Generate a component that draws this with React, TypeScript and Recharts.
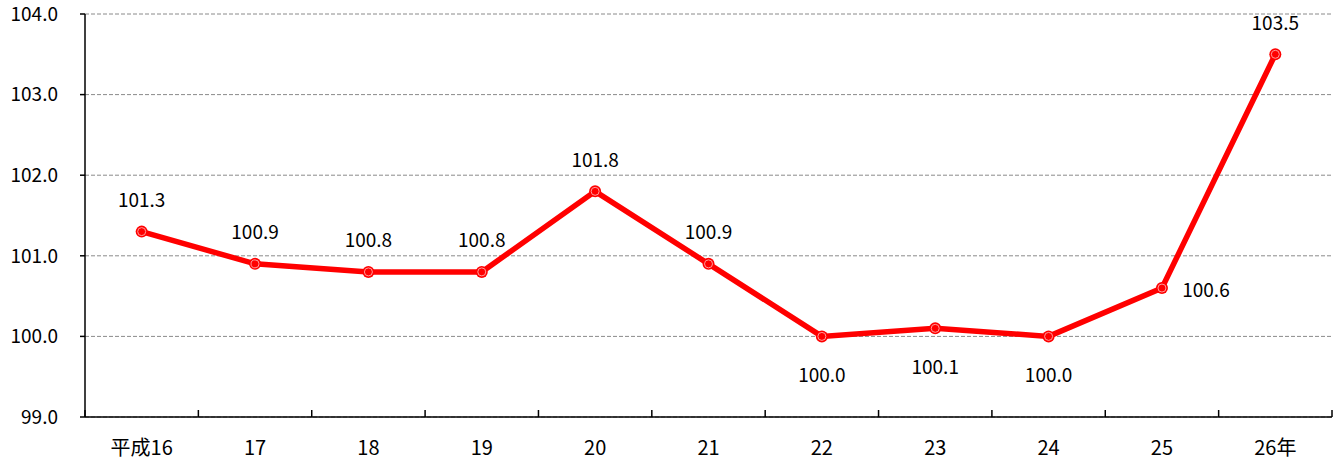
import { LineChart, Line, XAxis, YAxis, CartesianGrid, LabelList } from 'recharts';

const years = ['平成16', '17', '18', '19', '20', '21', '22', '23', '24', '25', '26年'];
const values = [101.3, 100.9, 100.8, 100.8, 101.8, 100.9, 100.0, 100.1, 100.0, 100.6, 103.5];
const yTicks = [99, 100, 101, 102, 103, 104];

// where each value label sits relative to its point
const labelSide = ['top', 'top', 'top', 'top', 'top', 'top', 'bottom', 'bottom', 'bottom', 'right', 'top'];

const FONT = '"Noto Sans CJK JP", "Noto Sans", sans-serif';

// categories sit at the middle of each slot, tick marks at slot edges
const chartData = years.map((year, i) => ({ year, value: values[i], pos: i + 0.5 }));
const xTicks: number[] = [];
for (let i = 0; i <= years.length; i++) {
  xTicks.push(i);
  if (i < years.length) xTicks.push(i + 0.5);
}

const ValueLabel = (props: any) => {
  const { x, y, value, index } = props;
  const side = labelSide[index];
  let dx = 0;
  let dy = -33;
  if (side === 'bottom') dy = 37;
  if (side === 'right') {
    dx = 44;
    dy = 0;
  }
  return (
    <text
      x={x + dx}
      y={y + dy}
      textAnchor="middle"
      dominantBaseline="central"
      fontSize={19}
      fontFamily={FONT}
      fill="#000"
    >
      {Number(value).toFixed(1)}
    </text>
  );
};

const Dot = (props: any) => {
  const { cx, cy, index } = props;
  return (
    <g key={index}>
      <circle cx={cx} cy={cy} r={6} fill="#ff0000" />
      <circle cx={cx} cy={cy} r={4} fill="none" stroke="#ff9a9a" strokeWidth={1} />
    </g>
  );
};

const XTick = (props: any) => {
  const { x, y, payload } = props;
  const v = payload.value;
  if (Number.isInteger(v)) {
    return <line x1={x} x2={x} y1={y} y2={y - 7} stroke="#000" strokeWidth={1.5} />;
  }
  return (
    <text
      x={x}
      y={y + 29}
      textAnchor="middle"
      dominantBaseline="central"
      fontSize={20}
      fontFamily={FONT}
      fill="#000"
    >
      {years[Math.floor(v)]}
    </text>
  );
};

export default function App() {
  return (
    <div style={{ position: 'absolute', left: 0, top: 0, width: 1341, height: 463, background: '#fff' }}>
      <LineChart width={1341} height={463} data={chartData} margin={{ top: 14, right: 9, bottom: 0, left: 0 }}>
        <CartesianGrid vertical={false} stroke="#8a8a8a" strokeDasharray="4 2" />
        <XAxis
          type="number"
          dataKey="pos"
          domain={[0, years.length]}
          ticks={xTicks}
          tick={<XTick />}
          tickSize={0}
          tickMargin={0}
          tickLine={false}
          interval={0}
          axisLine={{ stroke: '#000', strokeWidth: 1.5 }}
          height={46}
        />
        <YAxis
          domain={[99, 104]}
          ticks={yTicks}
          width={85}
          tickFormatter={(v: number) => v.toFixed(1)}
          tick={{ fontSize: 19, fontFamily: FONT, fill: '#000' }}
          tickSize={5}
          tickMargin={22}
          axisLine={{ stroke: '#000', strokeWidth: 1.5 }}
          tickLine={{ stroke: '#000', strokeWidth: 1.5 }}
        />
        <Line
          dataKey="value"
          stroke="#ff0000"
          strokeWidth={5.5}
          dot={<Dot />}
          activeDot={false}
          isAnimationActive={false}
        >
          <LabelList dataKey="value" content={<ValueLabel />} />
        </Line>
      </LineChart>
    </div>
  );
}
